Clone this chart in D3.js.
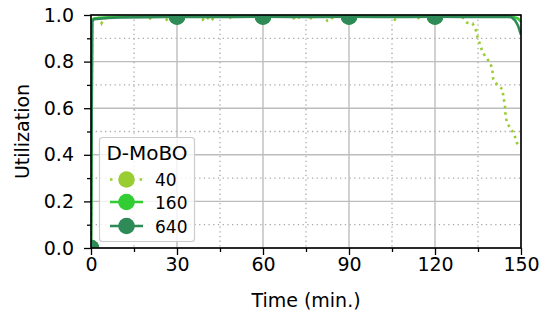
<!DOCTYPE html>
<html>
<head>
<meta charset="utf-8">
<script src="https://cdn.jsdelivr.net/npm/d3@7"></script>
<style>
  html, body { margin: 0; padding: 0; background: #fff; }
  svg { display: block; font-family: "DejaVu Sans", sans-serif; }
</style>
</head>
<body>
<svg id="chart" width="549" height="320"></svg>
<script>
// ---- data ----
const xTicks = [0, 30, 60, 90, 120, 150];
const xMinorTicks = [15, 45, 75, 105, 135];
const yTicks = [0.0, 0.2, 0.4, 0.6, 0.8, 1.0];
const yMinorTicks = [0.1, 0.3, 0.5, 0.7, 0.9];
const markerTimes = [0, 30, 60, 90, 120];

const seriesNames = ["40", "160", "640"];
const seriesColors = ["#9acd32", "#32cd32", "#2e8b57"];

const time40 = [0, 0.4, 1, 2, 3, 3.7, 4.5, 6, 10, 15, 20, 21, 22, 25, 26.4, 27.5, 30, 35, 38, 39, 40, 42, 43, 48, 49, 50, 55, 60, 65, 70, 71.5, 73, 76, 77.3, 78.5, 81, 82.5, 83.4, 84.5, 90, 95, 100, 105, 106, 107, 110, 112.5, 113.6, 115, 120, 125, 129, 130.2, 131.2, 133.1, 134.2, 134.9, 135.7, 136.5, 137.8, 139.3, 140, 140.3, 141.7, 143.5, 143.9, 144.4, 144.6, 145.1, 146.4, 147.7, 148.5, 149.3, 150];
const util40 = [0, 0.975, 0.985, 0.99, 0.985, 0.965, 0.985, 0.99, 0.993, 0.994, 0.993, 0.98, 0.993, 0.994, 0.98, 0.993, 0.995, 0.994, 0.993, 0.98, 0.993, 0.975, 0.993, 0.994, 0.985, 0.994, 0.995, 0.995, 0.994, 0.993, 0.979, 0.994, 0.993, 0.98, 0.994, 0.993, 0.975, 0.976, 0.994, 0.995, 0.994, 0.994, 0.993, 0.98, 0.993, 0.994, 0.993, 0.982, 0.994, 0.995, 0.994, 0.993, 0.985, 0.967, 0.964, 0.936, 0.904, 0.874, 0.843, 0.817, 0.795, 0.763, 0.725, 0.70, 0.682, 0.647, 0.611, 0.572, 0.536, 0.514, 0.486, 0.452, 0.44, 0.44];

const time160 = [0, 0.4, 1, 3, 6, 10, 20, 30, 40, 50, 60, 70, 80, 90, 100, 110, 120, 130, 140, 147, 149, 150];
const util160 = [0, 0.978, 0.985, 0.988, 0.99, 0.992, 0.993, 0.994, 0.993, 0.994, 0.994, 0.993, 0.994, 0.994, 0.993, 0.994, 0.994, 0.993, 0.994, 0.993, 0.985, 0.97];

const time640 = [0, 0.4, 1, 3, 6, 10, 20, 30, 40, 50, 60, 70, 80, 90, 100, 110, 120, 130, 140, 145, 146.7, 148, 149, 150];
const util640 = [0, 0.972, 0.982, 0.984, 0.987, 0.989, 0.991, 0.993, 0.992, 0.992, 0.993, 0.992, 0.992, 0.993, 0.992, 0.992, 0.993, 0.992, 0.992, 0.993, 0.99, 0.976, 0.953, 0.915];

const seriesTimes = [time40, time160, time640];
const seriesUtils = [util40, util160, util640];
const seriesDash = ["2.5,4", null, null];

const xLabel = "Time (min.)";
const yLabel = "Utilization";
const legendTitle = "D-MoBO";

// ---- layout ----
const svg = d3.select("#chart");
const L = 91, R = 521, T = 15, B = 248;
const x = d3.scaleLinear().domain([0, 150]).range([L, R]);
const y = d3.scaleLinear().domain([0, 1]).range([B, T]);

svg.append("defs").append("clipPath").attr("id", "plotclip")
  .append("rect").attr("x", L).attr("y", T).attr("width", R - L).attr("height", B - T);

// grid
const grid = svg.append("g");
grid.selectAll(".vminor").data(xMinorTicks).join("line")
  .attr("x1", d => x(d)).attr("x2", d => x(d)).attr("y1", T).attr("y2", B)
  .attr("stroke", "#aaaaaa").attr("stroke-width", 1.3).attr("stroke-dasharray", "1.3,3.4");
grid.selectAll(".hminor").data(yMinorTicks).join("line")
  .attr("y1", d => y(d)).attr("y2", d => y(d)).attr("x1", L).attr("x2", R)
  .attr("stroke", "#aaaaaa").attr("stroke-width", 1.3).attr("stroke-dasharray", "1.3,3.4");
grid.selectAll(".vmajor").data(xTicks).join("line")
  .attr("x1", d => x(d)).attr("x2", d => x(d)).attr("y1", T).attr("y2", B)
  .attr("stroke", "#bdbdbd").attr("stroke-width", 1.4);
grid.selectAll(".hmajor").data(yTicks).join("line")
  .attr("y1", d => y(d)).attr("y2", d => y(d)).attr("x1", L).attr("x2", R)
  .attr("stroke", "#bdbdbd").attr("stroke-width", 1.4);

// series
const plot = svg.append("g").attr("clip-path", "url(#plotclip)");
const line = d3.line().x(d => x(d[0])).y(d => y(d[1]));
seriesNames.forEach((name, i) => {
  const pts = seriesTimes[i].map((t, j) => [t, seriesUtils[i][j]]);
  const p = plot.append("path").datum(pts)
    .attr("d", line).attr("fill", "none")
    .attr("stroke", seriesColors[i]).attr("stroke-width", 2.6);
  if (seriesDash[i]) p.attr("stroke-dasharray", seriesDash[i]);
  const interp = t => {
    const ts = seriesTimes[i], us = seriesUtils[i];
    const k = ts.indexOf(t);
    if (k >= 0) return us[k];
    const b = d3.bisectLeft(ts, t);
    const f = (t - ts[b - 1]) / (ts[b] - ts[b - 1]);
    return us[b - 1] + f * (us[b] - us[b - 1]);
  };
  plot.selectAll(".m" + i).data(markerTimes).join("circle")
    .attr("cx", d => x(d)).attr("cy", d => y(interp(d)))
    .attr("r", 8.3).attr("fill", seriesColors[i]);
});

// axes
const fs = 19;
const xAxis = svg.append("g").attr("transform", `translate(0,${B})`)
  .call(d3.axisBottom(x).tickValues(xTicks).tickFormat(d3.format("d")).tickSize(7).tickPadding(3));
const xAxisMinor = svg.append("g").attr("transform", `translate(0,${B})`)
  .call(d3.axisBottom(x).tickValues(xMinorTicks).tickFormat("").tickSize(4));
const yAxis = svg.append("g").attr("transform", `translate(${L},0)`)
  .call(d3.axisLeft(y).tickValues(yTicks).tickFormat(d3.format(".1f")).tickSize(7).tickPadding(10));
const yAxisMinor = svg.append("g").attr("transform", `translate(${L},0)`)
  .call(d3.axisLeft(y).tickValues(yMinorTicks).tickFormat("").tickSize(4));
[xAxis, xAxisMinor, yAxis, yAxisMinor].forEach(g => {
  g.select(".domain").remove();
  g.selectAll("line").attr("stroke", "#000").attr("stroke-width", 1.3);
  g.selectAll("text").attr("font-size", fs).attr("font-family", "DejaVu Sans").attr("fill", "#000");
});

// frame
svg.append("rect").attr("x", L).attr("y", T).attr("width", R - L).attr("height", B - T)
  .attr("fill", "none").attr("stroke", "#000").attr("stroke-width", 1.6);

// axis labels
svg.append("text").attr("x", (L + R) / 2).attr("y", 307).attr("text-anchor", "middle")
  .attr("font-size", fs).text(xLabel);
svg.append("text").attr("transform", `translate(29,${(T + B) / 2}) rotate(-90)`)
  .attr("text-anchor", "middle").attr("font-size", fs).text(yLabel);

// legend
const lg = svg.append("g");
lg.append("rect").attr("x", 99.5).attr("y", 137.5).attr("width", 95).attr("height", 104)
  .attr("rx", 3).attr("fill", "#fff").attr("fill-opacity", 0.8)
  .attr("stroke", "#cccccc").attr("stroke-width", 1.2);
lg.append("text").attr("x", 147).attr("y", 160).attr("text-anchor", "middle")
  .attr("font-size", 20).text(legendTitle);
const rowY = [179.5, 202, 226];
seriesNames.forEach((name, i) => {
  const l = lg.append("line").attr("x1", 110).attr("x2", 143).attr("y1", rowY[i]).attr("y2", rowY[i])
    .attr("stroke", seriesColors[i]).attr("stroke-width", 2.6);
  if (seriesDash[i]) l.attr("stroke-dasharray", "2.5,12.3");
  lg.append("circle").attr("cx", 126.5).attr("cy", rowY[i]).attr("r", 8.3).attr("fill", seriesColors[i]);
  lg.append("text").attr("x", 155).attr("y", rowY[i] + 6.5).attr("font-size", 17).text(name);
});
</script>
</body>
</html>
